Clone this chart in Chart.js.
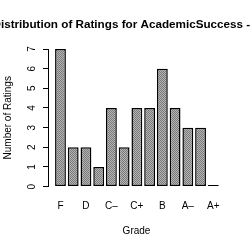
<!DOCTYPE html>
<html>
<head>
<meta charset="utf-8">
<script src="https://cdn.jsdelivr.net/npm/chart.js@4"></script>
<style>
  body { margin: 0; background: #fff; }
  #wrap { width: 250px; height: 250px; }
</style>
</head>
<body>
<div id="wrap"><canvas id="grafico" width="250" height="250"></canvas></div>
<script>
// Notas e número de avaliações
const grades = ['F', 'D–', 'D', 'D+', 'C–', 'C', 'C+', 'B–', 'B', 'B+', 'A–', 'A', 'A+'];
const ratings = [7, 2, 2, 1, 4, 2, 4, 4, 6, 4, 3, 3, 0];
// só metade das notas aparece no eixo
const labelIdx = [0, 2, 4, 6, 8, 10, 12];
const yTicks = [0, 1, 2, 3, 4, 5, 6, 7];
const titulo = 'Distribution of Ratings for AcademicSuccess - Total';

// padrão xadrez cinza das barras
function xadrez() {
    const c = document.createElement('canvas');
    c.width = 2; c.height = 2;
    const g = c.getContext('2d');
    g.fillStyle = '#b4b4b4';
    g.fillRect(0, 0, 2, 2);
    g.fillStyle = '#7a7a7a';
    g.fillRect(0, 0, 1, 1);
    g.fillRect(1, 1, 1, 1);
    return g.createPattern(c, 'repeat');
}

// título centrado sobre a área do gráfico, sem encolher o texto (passa da borda)
const tituloPlugin = {
    id: 'tituloR',
    afterDraw(chart) {
        const { ctx, chartArea } = chart;
        ctx.save();
        ctx.font = 'bold 11.7px "Liberation Sans", Arial, sans-serif';
        ctx.fillStyle = '#000';
        ctx.textAlign = 'center';
        ctx.textBaseline = 'middle';
        ctx.fillText(titulo, (chartArea.left + chartArea.right) / 2, 25);
        ctx.restore();
    }
};

Chart.defaults.font.family = '"Liberation Sans", Arial, sans-serif';
Chart.defaults.font.size = 10;
Chart.defaults.color = '#000';

const ctx = document.getElementById('grafico').getContext('2d');
new Chart(ctx, {
    type: 'bar',
    data: {
        datasets: [{
            label: 'Ratings',
            data: ratings.map((v, i) => ({ x: i, y: v })),
            backgroundColor: xadrez(),
            borderColor: '#000',
            borderWidth: 1.5,
            borderSkipped: false,
            minBarLength: 1.5,
            categoryPercentage: 1,
            barPercentage: 0.85
        }]
    },
    plugins: [tituloPlugin],
    options: {
        responsive: false,
        animation: false,
        layout: { padding: { left: 0, right: 25, top: 49, bottom: 13.9 } },
        plugins: {
            legend: { display: false },
            tooltip: { enabled: false }
        },
        scales: {
            x: {
                type: 'linear',
                offset: false,
                min: -0.98,
                max: 12.92,
                afterBuildTicks: axis => { axis.ticks = labelIdx.map(v => ({ value: v })); },
                ticks: {
                    autoSkip: false,
                    maxRotation: 0,
                    padding: 14.5,
                    font: { lineHeight: 1 },
                    callback: v => grades[v]
                },
                grid: { display: false, drawTicks: false },
                border: { display: false },
                title: {
                    display: true,
                    text: 'Grade',
                    font: { lineHeight: 1 },
                    padding: { top: 0.5, bottom: 0 }
                }
            },
            y: {
                min: 0,
                max: 7,
                afterBuildTicks: axis => { axis.ticks = yTicks.map(v => ({ value: v })); },
                ticks: {
                    minRotation: 90,
                    maxRotation: 90,
                    crossAlign: 'center',
                    padding: 7.5
                },
                grid: { drawOnChartArea: false, tickLength: 5, color: '#000' },
                border: { display: true, color: '#000' },
                title: { display: true, text: 'Number of Ratings', padding: { top: 2, bottom: 2 } }
            }
        }
    }
});
</script>
</body>
</html>
